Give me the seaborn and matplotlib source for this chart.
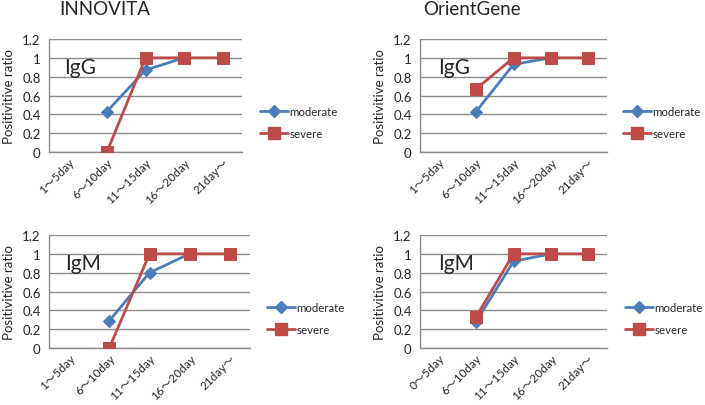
import numpy as np
import pandas as pd
import matplotlib
matplotlib.use("Agg")
import matplotlib.pyplot as plt
import seaborn as sns
from matplotlib.lines import Line2D

# ---- data ----
cats_a = ["1～5day", "6～10day", "11～15day", "16～20day", "21day～"]
cats_b = ["0～5day", "6～10day", "11～15day", "16～20day", "21day～"]

innovita_igg_moderate = [np.nan, 0.43, 0.87, 1.0, np.nan]
innovita_igg_severe = [np.nan, 0.0, 1.0, 1.0, 1.0]
orient_igg_moderate = [np.nan, 0.43, 0.93, 1.0, np.nan]
orient_igg_severe = [np.nan, 0.67, 1.0, 1.0, 1.0]
innovita_igm_moderate = [np.nan, 0.29, 0.80, 1.0, np.nan]
innovita_igm_severe = [np.nan, 0.0, 1.0, 1.0, 1.0]
orient_igm_moderate = [np.nan, 0.28, 0.92, 1.0, np.nan]
orient_igm_severe = [np.nan, 0.33, 1.0, 1.0, 1.0]

BLUE = "#4A7EBB"
RED = "#BE4B48"
GRID = "#8C8C8C"

sns.set_style("white")
FONT = ["Lato", "Noto Sans CJK JP", "DejaVu Sans"]
plt.rcParams["font.family"] = FONT

fig = plt.figure(figsize=(7.05, 4.06), dpi=100)
W, H = 705, 406

def fx(px):
    return px / W

def fy(py):
    return 1 - py / H

panels = [
    (49, 242, 40, 153, cats_a, innovita_igg_moderate, innovita_igg_severe, "IgG", (260, 123.5), 0.08),
    (420, 607, 40, 153, cats_a, orient_igg_moderate, orient_igg_severe, "IgG", (623, 123.5), 0.095),
    (49, 250, 236, 349, cats_a, innovita_igm_moderate, innovita_igm_severe, "IgM", (267, 319.5), 0.08),
    (420, 607, 236, 349, cats_b, orient_igm_moderate, orient_igm_severe, "IgM", (625, 319.5), 0.095),
]

LW = 2.0
for (l, r, t, b, cats, mod, sev, lab, lg, tx) in panels:
    ax = fig.add_axes([fx(l), fy(b), (r - l) / W, (b - t) / H])
    pos = np.arange(len(cats))
    df_m = pd.DataFrame({"pos": pos, "value": mod})
    df_s = pd.DataFrame({"pos": pos, "value": sev})
    sns.lineplot(data=df_m, x="pos", y="value", ax=ax, color=BLUE, lw=LW,
                 marker="D", markersize=6, markeredgecolor=BLUE, zorder=3)
    sns.lineplot(data=df_s, x="pos", y="value", ax=ax, color=RED, lw=LW,
                 marker="s", markersize=8.5, markeredgecolor=RED, zorder=4)
    ax.set_xlim(-0.5, len(cats) - 0.5)
    ax.set_ylim(0, 1.2)
    ax.set_yticks(np.arange(0, 1.21, 0.2))
    ax.set_yticklabels(["0", "0.2", "0.4", "0.6", "0.8", "1", "1.2"], fontsize=9.5)
    ax.set_xticks(pos)
    ax.set_xticklabels(cats, rotation=45, ha="right", rotation_mode="anchor",
                       fontsize=8.5, family=FONT)
    ax.set_xticks(np.arange(-0.5, len(cats)), minor=True)
    ax.tick_params(axis="x", which="major", length=0, pad=3)
    ax.tick_params(axis="x", which="minor", length=5, color=GRID, width=1)
    ax.tick_params(axis="y", length=4, color=GRID, width=1, pad=2)
    ax.grid(axis="y", color=GRID, lw=1)
    ax.set_axisbelow(True)
    for s in ["top", "right"]:
        ax.spines[s].set_visible(False)
    for s in ["left", "bottom"]:
        ax.spines[s].set_color(GRID)
        ax.spines[s].set_linewidth(1)
    ax.set_xlabel("")
    ax.set_ylabel("Positivitive ratio", fontsize=9.5, labelpad=5)
    ax.text(tx, 0.75, lab, transform=ax.transAxes,
            fontsize=15, va="center", ha="left")
    handles = [
        Line2D([0], [0], color=BLUE, lw=LW, marker="D", markersize=6),
        Line2D([0], [0], color=RED, lw=LW, marker="s", markersize=8.5),
    ]
    ax.legend(handles, ["moderate", "severe"], loc="center left",
              bbox_to_anchor=(fx(lg[0]), fy(lg[1])), bbox_transform=fig.transFigure,
              frameon=False, fontsize=8.3, handlelength=2.4, handletextpad=0.15,
              labelspacing=1.0, borderpad=0, borderaxespad=0)

fig.text(fx(59), fy(15), "INNOVITA", fontsize=13.5, va="baseline", ha="left")
fig.text(fx(423), fy(15), "OrientGene", fontsize=13.5, va="baseline", ha="left")

fig.savefig("out.png", dpi=100)
